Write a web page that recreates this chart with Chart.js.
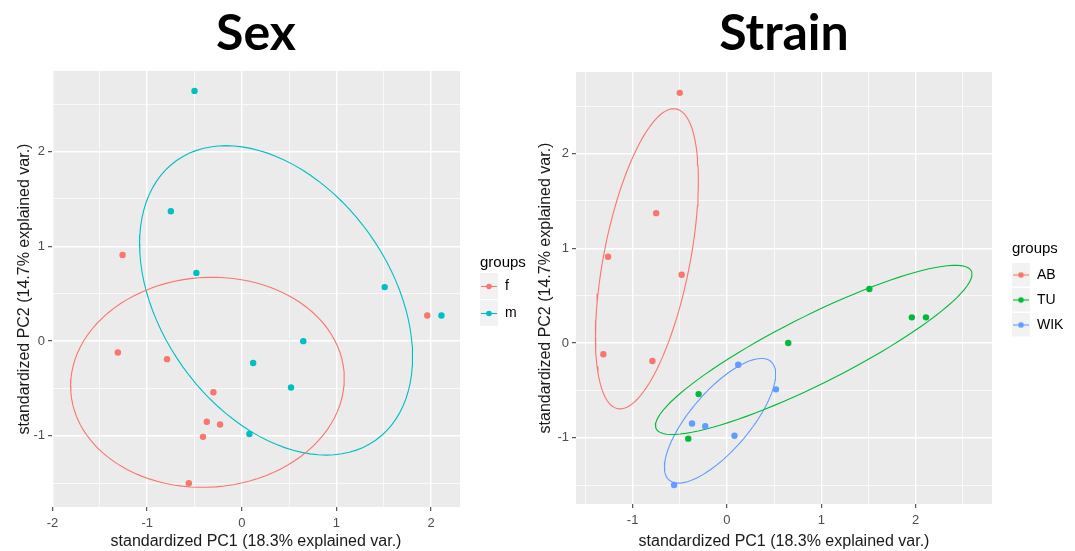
<!DOCTYPE html>
<html>
<head>
<meta charset="utf-8">
<script src="https://cdn.jsdelivr.net/npm/chart.js@4.4.1/dist/chart.umd.min.js"></script>
<style>
html, body { margin: 0; padding: 0; background: #fff; overflow: hidden; width: 1075px; height: 551px; }
canvas { position: absolute; top: 0; }
#sex { left: 0; }
#strain { left: 530px; }
</style>
</head>
<body>
<canvas id="sex" width="560" height="551"></canvas>
<canvas id="strain" width="560" height="551"></canvas>
<script>
// PCA scores, one entry per sample
var pc1 = [-0.50, -0.75, -1.26, -0.48, -1.31, -0.79, 1.51, 1.96, 2.11, 0.65, -0.30, -0.41, 0.12, 0.52, -0.37, -0.23, 0.08, -0.56];
var pc2 = [2.64, 1.37, 0.91, 0.72, -0.12, -0.19, 0.57, 0.27, 0.27, 0.00, -0.54, -1.01, -0.23, -0.49, -0.85, -0.88, -0.98, -1.50];
var sex = ["m", "m", "f", "m", "f", "f", "m", "f", "m", "m", "f", "f", "m", "m", "f", "f", "m", "f"];
var strain = ["AB", "AB", "AB", "AB", "AB", "AB", "TU", "TU", "TU", "TU", "TU", "TU", "WIK", "WIK", "WIK", "WIK", "WIK", "WIK"];

var sexGroups = ["f", "m"];
var strainGroups = ["AB", "TU", "WIK"];
var sexColors = ["#F8766D", "#00BFC4"];
var strainColors = ["#F8766D", "#00BA38", "#619CFF"];

var xTickLabels = [-2, -1, 0, 1, 2];
var yTickLabels = [-1, 0, 1, 2];
var xTitle = "standardized PC1 (18.3% explained var.)";
var yTitle = "standardized PC2 (14.7% explained var.)";
var ellipseProb = 0.68;

var FONT = "'Liberation Sans', Arial, sans-serif";

// normal data ellipse, same way ggbiplot builds it (cov + cholesky)
function dataEllipse(xs, ys) {
  var n = xs.length, mx = 0, my = 0, sxx = 0, syy = 0, sxy = 0, i;
  for (i = 0; i < n; i++) { mx += xs[i]; my += ys[i]; }
  mx /= n; my /= n;
  for (i = 0; i < n; i++) {
    sxx += (xs[i] - mx) * (xs[i] - mx);
    syy += (ys[i] - my) * (ys[i] - my);
    sxy += (xs[i] - mx) * (ys[i] - my);
  }
  sxx /= n - 1; syy /= n - 1; sxy /= n - 1;
  var a = Math.sqrt(sxx), b = sxy / a, c = Math.sqrt(syy - b * b);
  var ed = Math.sqrt(-2 * Math.log(1 - ellipseProb));
  var pts = [];
  for (i = 0; i <= 100; i++) {
    var t = -Math.PI + 2 * Math.PI * i / 100;
    pts.push({ x: mx + ed * a * Math.cos(t), y: my + ed * (b * Math.cos(t) + c * Math.sin(t)) });
  }
  return pts;
}

// legend key: grey tile with line + dot, tile sits at the left of the image
function legendKey(color, w, h) {
  var c = document.createElement("canvas");
  c.width = w; c.height = h;
  var g = c.getContext("2d"), mid = h / 2;
  g.fillStyle = "#F2F2F2";
  g.fillRect(0, 0, 18, h - 1);
  g.strokeStyle = color; g.lineWidth = 1.1;
  g.beginPath(); g.moveTo(1, mid); g.lineTo(17, mid); g.stroke();
  g.fillStyle = color;
  g.beginPath(); g.arc(9, mid, 2.8, 0, 2 * Math.PI); g.fill();
  return c;
}

var panelBg = {
  id: "panelBg",
  beforeDraw: function (chart) {
    var a = chart.chartArea, ctx = chart.ctx;
    ctx.save();
    ctx.fillStyle = "#EBEBEB";
    ctx.fillRect(a.left, a.top, a.right - a.left, a.bottom - a.top);
    ctx.restore();
  }
};

function isMajor(v, list) {
  for (var i = 0; i < list.length; i++) if (Math.abs(list[i] - v) < 1e-9) return true;
  return false;
}

function axis(min, max, labels, pos, size, titlePad, tickPad) {
  return {
    type: "linear",
    position: pos,
    min: min,
    max: max,
    border: { display: false },
    grid: {
      color: "#FFFFFF",
      lineWidth: function (c) { return isMajor(c.tick.value, labels) ? 1.4 : 0.7; },
      tickColor: function (c) { return isMajor(c.tick.value, labels) ? "#333333" : "rgba(0,0,0,0)"; },
      tickWidth: 1,
      tickLength: 4
    },
    ticks: {
      stepSize: 0.5,
      includeBounds: false,
      autoSkip: false,
      maxRotation: 0,
      padding: tickPad,
      color: "#4D4D4D",
      font: { family: FONT, size: 13 },
      callback: function (v) { return isMajor(v, labels) ? String(v) : ""; }
    },
    title: {
      display: true,
      text: pos === "bottom" ? xTitle : yTitle,
      color: "#1A1A1A",
      font: { family: FONT, size: 16 },
      padding: { top: titlePad, bottom: 0 }
    },
    afterFit: function (s) {
      if (pos === "bottom") s.height = size; else s.width = size;
    }
  };
}

function makePanel(id, title, groupOf, groups, colors, box) {
  var datasets = [], keys = [], g, i;
  for (g = 0; g < groups.length; g++) {
    var pts = [];
    for (i = 0; i < pc1.length; i++) if (groupOf[i] === groups[g]) pts.push({ x: pc1[i], y: pc2[i] });
    datasets.push({
      label: groups[g],
      data: pts,
      backgroundColor: colors[g],
      borderColor: colors[g],
      pointRadius: 3.2,
      pointBorderWidth: 0
    });
    keys.push(legendKey(colors[g], 18 + box.keyPad, box.keyH));
  }
  for (g = 0; g < groups.length; g++) {
    var xs = [], ys = [];
    for (i = 0; i < pc1.length; i++) if (groupOf[i] === groups[g]) { xs.push(pc1[i]); ys.push(pc2[i]); }
    datasets.push({
      label: groups[g] + " ellipse",
      data: dataEllipse(xs, ys),
      showLine: true,
      fill: false,
      borderColor: colors[g],
      borderWidth: 1.1,
      pointRadius: 0,
      tension: 0
    });
  }
  var n = groups.length;
  var scales = {
    x: axis(box.xMin, box.xMax, xTickLabels, "bottom", box.xAxisH, 2, box.xTickPad),
    y: axis(box.yMin, box.yMax, yTickLabels, "left", box.yAxisW, box.yTitlePad, 3),
    gap: {
      type: "linear", position: "right", display: true,
      grid: { display: false, drawTicks: false }, border: { display: false },
      ticks: { display: false },
      afterFit: function (s) { s.width = 20; }
    }
  };
  var chart = new Chart(document.getElementById(id), {
    type: "scatter",
    data: { datasets: datasets },
    plugins: [panelBg],
    options: {
      responsive: false,
      animation: false,
      events: [],
      layout: { padding: { left: 0, right: 0, top: 0, bottom: 0 } },
      scales: scales,
      plugins: {
        tooltip: { enabled: false },
        title: {
          display: true,
          text: title,
          fullSize: false,
          color: "#000",
          font: { family: "Lato, 'Open Sans', sans-serif", size: 50, weight: "bold" },
          padding: { top: box.titleTop, bottom: box.titleBottom }
        },
        legend: {
          display: true,
          position: "right",
          align: "center",
          fullSize: false,
          title: {
            display: true,
            text: "groups",
            position: "start",
            color: "#000",
            font: { family: FONT, size: 15 },
            padding: { top: box.legTitleTop, bottom: box.legTitleBottom }
          },
          labels: {
            usePointStyle: true,
            pointStyleWidth: 18 - box.keyPad,
            padding: box.keyPad,
            color: "#000",
            font: { family: FONT, size: 14 },
            generateLabels: function (ch) {
              return Chart.defaults.plugins.legend.labels.generateLabels(ch)
                .filter(function (l) { return l.datasetIndex < n; })
                .map(function (l) { l.pointStyle = keys[l.datasetIndex]; return l; });
            }
          }
        }
      }
    }
  });
  // line the plot panel up with the picture
  var diff = chart.chartArea.right - box.right;
  if (diff > 0) {
    chart.options.layout.padding.right = diff;
    chart.update();
  }
  return chart;
}

makePanel("sex", "Sex", sex, sexGroups, sexColors, {
  xMin: -2.006, xMax: 2.306, yMin: -1.75, yMax: 2.85,
  right: 460, xAxisH: 44, yAxisW: 52, yTitlePad: 15, xTickPad: 5,
  titleTop: 4, titleBottom: 7, keyPad: 13, keyH: 27,
  legTitleTop: 11, legTitleBottom: -7
});
makePanel("strain", "Strain", strain, strainGroups, strainColors, {
  xMin: -1.60, xMax: 2.81, yMin: -1.70, yMax: 2.86,
  right: 462, xAxisH: 47, yAxisW: 46, yTitlePad: 6, xTickPad: 5,
  titleTop: 4, titleBottom: 8, keyPad: 11, keyH: 25,
  legTitleTop: 8, legTitleBottom: -2
});
</script>
</body>
</html>
